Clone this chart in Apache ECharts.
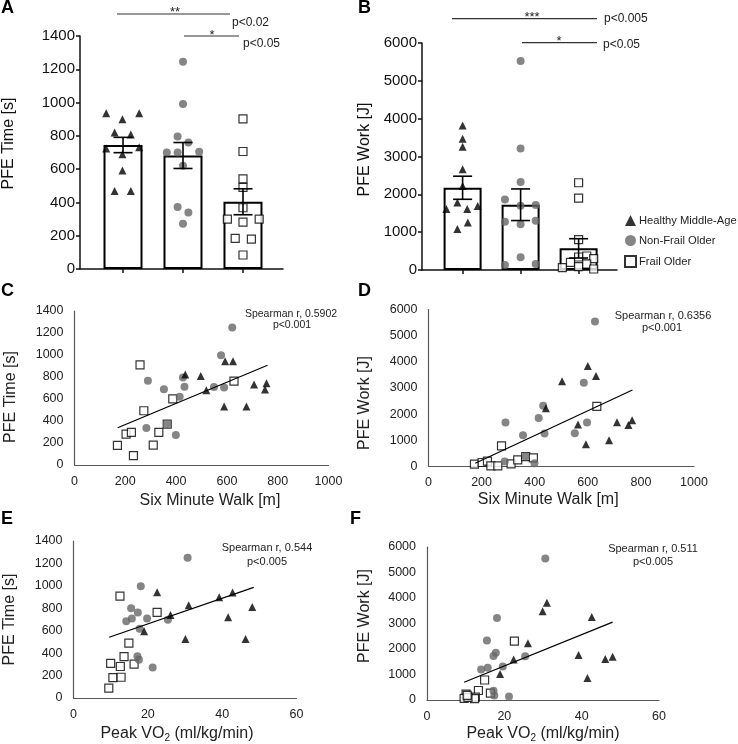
<!DOCTYPE html>
<html>
<head>
<meta charset="utf-8">
<script src="https://cdn.jsdelivr.net/npm/echarts@6/dist/echarts.min.js"></script>
<style>
  html, body { margin: 0; padding: 0; background: #fff; }
  #main { width: 738px; height: 744px; }
</style>
</head>
<body>
<div id="main"></div>
<script>
  // group names (legend)
  const groupNames = ['Healthy Middle-Age', 'Non-Frail Older', 'Frail Older'];

  // panel A: PFE time, bar = mean, error = SEM, dots = subjects [x jitter, value]
  const aMean = [745, 682, 404];
  const aSem = [46, 78, 78];
  const aHealthy = [[0.72, 936], [0.99, 900], [1.27, 936], [0.86, 820], [1.13, 808], [0.72, 724], [1.27, 732], [0.99, 690], [0.99, 592], [0.86, 468], [1.13, 468]];
  const aNonFrail = [[2.0, 1246], [2.0, 992], [1.91, 796], [2.09, 760], [1.73, 700], [1.91, 700], [2.27, 704], [2.0, 620], [1.91, 372], [2.09, 340], [2.0, 272]];
  const aFrail = [[3.0, 902], [3.0, 706], [3.0, 542], [3.0, 490], [3.0, 368], [2.74, 300], [3.0, 282], [3.27, 300], [2.87, 184], [3.14, 180], [3.0, 84]];

  // panel B: PFE work
  const bMean = [2174, 1725, 572];
  const bSem = [305, 418, 255];
  const bHealthy = [[1.0, 3819], [1.0, 3467], [1.0, 3256], [1.0, 2666], [1.0, 2218], [0.91, 1786], [0.72, 1610], [1.08, 1610], [1.26, 1690], [1.09, 1258], [0.91, 1082]];
  const bNonFrail = [[2.0, 5526], [2.0, 3212], [2.0, 2323], [1.73, 1866], [2.26, 1716], [2.0, 1698], [1.73, 1276], [2.0, 1206], [2.26, 1302], [2.0, 334], [1.73, 132], [2.26, 158]];
  const bFrail = [[3.0, 2306], [3.0, 1901], [3.0, 801], [2.72, 62], [2.86, 202], [3.0, 343], [3.14, 370], [3.26, 299], [3.0, 88], [3.14, 158], [3.26, 26]];

  // panel C: six minute walk vs PFE time
  const cHealthy = [[436, 822], [497, 810], [593, 943], [624, 943], [519, 680], [589, 532], [677, 532], [707, 732], [756, 744], [750, 686]];
  const cNonFrail = [[621, 1249], [577, 998], [289, 765], [352, 689], [427, 795], [433, 711], [414, 620], [283, 336], [399, 272], [549, 708], [589, 705], [365, 372]];
  const cFrail = [[169, 178], [203, 281], [224, 296], [232, 85], [258, 910], [273, 493], [310, 181], [332, 296], [387, 602], [365, 372], [628, 762]];
  const cFit = [[170, 339], [760, 907]];

  // panel D: six minute walk vs PFE work
  const dHealthy = [[503, 3254], [600, 3838], [631, 3457], [442, 2224], [563, 1601], [593, 852], [680, 1004], [710, 1690], [753, 1589], [767, 1767]];
  const dNonFrail = [[627, 5541], [585, 3203], [432, 2326], [415, 1856], [290, 1678], [597, 1678], [356, 1195], [437, 1258], [551, 1271], [287, 191], [399, 127], [366, 381]];
  const dFrail = [[173, 89], [202, 153], [222, 203], [235, 25], [275, 788], [261, 25], [311, 102], [336, 254], [366, 381], [395, 330], [634, 2300]];
  const dFit = [[176, 127], [768, 2923]];

  // panel E: peak VO2 vs PFE time
  const eHealthy = [[22.5, 943], [26.1, 741], [31.0, 826], [30.1, 527], [19.0, 595], [39.2, 899], [42.8, 940], [41.6, 721], [46.3, 527], [48.1, 811]];
  const eNonFrail = [[30.7, 1251], [18.1, 996], [15.5, 800], [17.3, 762], [14.2, 685], [15.7, 709], [19.8, 709], [17.8, 618], [25.4, 697], [17.2, 372], [17.6, 340], [21.3, 272]];
  const eFrail = [[12.5, 908], [22.5, 764], [14.9, 489], [13.6, 369], [10.0, 308], [12.6, 281], [16.3, 302], [10.6, 182], [12.8, 185], [9.5, 88]];
  const eFit = [[9.6, 542], [48.5, 987]];

  // panel F: peak VO2 vs PFE work
  const fHealthy = [[31.0, 3811], [29.9, 3477], [42.6, 3258], [26.1, 2228], [22.4, 1584], [18.9, 1017], [39.2, 1764], [41.5, 863], [46.1, 1610], [48.0, 1700]];
  const fNonFrail = [[30.6, 5550], [18.1, 3219], [15.5, 2331], [17.8, 1854], [17.2, 1725], [25.4, 1712], [19.6, 1313], [15.7, 1262], [14.0, 1197], [17.2, 360], [17.4, 180], [21.2, 142]];
  const fFrail = [[22.6, 2305], [14.9, 785], [13.3, 373], [16.4, 270], [10.1, 232], [9.6, 64], [12.5, 116], [12.3, 51], [10.6, 103], [10.4, 180]];
  const fFit = [[9.6, 695], [48.0, 3052]];

  const FONT = '"Liberation Sans", Arial, sans-serif';
  const GRAY = '#676767';
  const plain = v => String(v);

  const groupStyle = [
    { symbol: 'triangle', itemStyle: { color: '#000' } },
    { symbol: 'circle', itemStyle: { color: GRAY } },
    { symbol: 'rect', itemStyle: { color: '#fff', borderColor: '#000', borderWidth: 1.2 } }
  ];

  function dots(idx, g, data, z) {
    return {
      name: groupNames[g],
      type: 'scatter',
      xAxisIndex: idx,
      yAxisIndex: idx,
      symbol: groupStyle[g].symbol,
      symbolSize: 8,
      itemStyle: groupStyle[g].itemStyle,
      z: z,
      data: data
    };
  }

  function bars(idx, mean) {
    return {
      type: 'bar',
      xAxisIndex: idx,
      yAxisIndex: idx,
      barWidth: idx === 0 ? 39 : 38,
      itemStyle: { color: '#fff', borderColor: '#000', borderWidth: 2 },
      z: 1,
      data: mean.map((v, i) => [i + 1, v])
    };
  }

  function errRender(params, api) {
    const x = api.value(0), m = api.value(1), s = api.value(2);
    const top = api.coord([x, m + s]);
    const bot = api.coord([x, m - s]);
    const half = 9.5;
    const st = { stroke: '#000', lineWidth: 1.6 };
    return {
      type: 'group',
      children: [
        { type: 'line', shape: { x1: top[0], y1: top[1], x2: bot[0], y2: bot[1] }, style: st },
        { type: 'line', shape: { x1: top[0] - half, y1: top[1], x2: top[0] + half, y2: top[1] }, style: st },
        { type: 'line', shape: { x1: bot[0] - half, y1: bot[1], x2: bot[0] + half, y2: bot[1] }, style: st }
      ]
    };
  }

  function errBars(idx, mean, sem) {
    return {
      type: 'custom',
      xAxisIndex: idx,
      yAxisIndex: idx,
      renderItem: errRender,
      encode: { x: 0, y: 1 },
      z: 5,
      data: mean.map((v, i) => [i + 1, v, sem[i]])
    };
  }

  function fitLine(idx, data) {
    return {
      type: 'line',
      xAxisIndex: idx,
      yAxisIndex: idx,
      symbol: 'none',
      lineStyle: { color: '#000', width: 1.2 },
      z: 6,
      data: data
    };
  }

  // bar panel axes
  function barX(idx, min, max) {
    return {
      type: 'value', gridIndex: idx, min: min, max: max,
      axisLine: { lineStyle: { color: '#111', width: 1.5 } },
      axisTick: { customValues: [1, 2, 3], length: 4, lineStyle: { color: '#111', width: 1.5 } },
      axisLabel: { show: false },
      splitLine: { show: false }
    };
  }
  function barY(idx, max, step, title, gap, pad) {
    return {
      type: 'value', gridIndex: idx, min: 0, max: max, interval: step,
      name: title, nameLocation: 'middle', nameGap: gap,
      nameTextStyle: { fontFamily: FONT, fontSize: 16, color: '#111', padding: pad },
      axisLine: { show: true, lineStyle: { color: '#111', width: 1.5 } },
      axisTick: { show: true, length: 4, lineStyle: { color: '#111', width: 1.5 } },
      axisLabel: { fontFamily: FONT, fontSize: 15, color: '#111', margin: 5, formatter: plain },
      splitLine: { show: false }
    };
  }

  // scatter panel axes
  function scX(idx, max, step, title, gap, pad) {
    return {
      type: 'value', gridIndex: idx, min: 0, max: max, interval: step,
      name: title, nameLocation: 'middle', nameGap: gap,
      nameTextStyle: {
        fontFamily: FONT, fontSize: 16, color: '#222', padding: pad,
        rich: {
          a: { fontFamily: FONT, fontSize: 16, color: '#222' },
          s: { fontFamily: FONT, fontSize: 10, color: '#222', padding: [9, 0, 0, 0] }
        }
      },
      axisLine: { lineStyle: { color: '#595959', width: 1.2 } },
      axisTick: { show: false },
      axisLabel: { fontFamily: FONT, fontSize: 12.5, color: '#222', margin: 10, formatter: plain },
      splitLine: { show: false }
    };
  }
  function scY(idx, max, step, title, gap, pad) {
    return {
      type: 'value', gridIndex: idx, min: 0, max: max, interval: step,
      name: title, nameLocation: 'middle', nameGap: gap,
      nameTextStyle: { fontFamily: FONT, fontSize: 16, color: '#222', padding: pad },
      axisLine: { show: true, lineStyle: { color: '#595959', width: 1.2 } },
      axisTick: { show: false },
      axisLabel: { fontFamily: FONT, fontSize: 12.5, color: '#222', margin: 11, formatter: plain },
      splitLine: { show: false }
    };
  }

  const vo2Title = '{a|Peak VO}{s|2}{a| (ml/kg/min)}';

  function txt(x, y, s, size, align, extra) {
    return {
      type: 'text', x: x, y: y, silent: true,
      style: Object.assign({
        text: s, fontFamily: FONT, fontSize: size, fill: '#222',
        textAlign: align || 'left', textVerticalAlign: 'middle'
      }, extra || {})
    };
  }
  function hline(x1, x2, y) {
    return {
      type: 'line', silent: true,
      shape: { x1: x1, y1: y, x2: x2, y2: y },
      style: { stroke: '#333', lineWidth: 1.2 }
    };
  }
  const bold = { fontWeight: 'bold', fill: '#000' };

  var myChart = echarts.init(document.getElementById('main'));
  var option = {
    animation: false,
    grid: [
      { left: 80, top: 36, width: 203, height: 233 },
      { left: 422, top: 43, width: 195, height: 227 },
      { left: 74.5, top: 311, width: 254, height: 154 },
      { left: 428.5, top: 309.5, width: 265.5, height: 157 },
      { left: 73.5, top: 541, width: 223, height: 159 },
      { left: 427, top: 547, width: 232, height: 155 }
    ],
    xAxis: [
      barX(0, 0.283, 3.667),
      barX(1, 0.3, 3.662),
      scX(2, 1000, 200, 'Six Minute Walk [m]', 28, [0, 0, 0, 17]),
      scX(3, 1000, 200, 'Six Minute Walk [m]', 25, [0, 26, 0, 0]),
      scX(4, 60, 20, vo2Title, 26, [0, 16, 0, 0]),
      scX(5, 60, 20, vo2Title, 24, [0, 0, 0, 0])
    ],
    yAxis: [
      barY(0, 1400, 200, 'PFE Time [s]', 63, [0, 0, 0, 18]),
      barY(1, 6000, 1000, 'PFE Work [J]', 49, [0, 0, 0, 14]),
      scY(2, 1400, 200, 'PFE Time [s]', 56, [0, 18, 0, 0]),
      scY(3, 6000, 1000, 'PFE Work [J]', 56, [0, 30, 0, 0]),
      scY(4, 1400, 200, 'PFE Time [s]', 56, [0, 0, 0, 0]),
      scY(5, 6000, 1000, 'PFE Work [J]', 54, [0, 0, 0, 15])
    ],
    legend: {
      orient: 'vertical',
      left: 624, top: 215, padding: 0,
      itemWidth: 11, itemHeight: 11, itemGap: 9,
      selectedMode: false,
      textStyle: { fontFamily: FONT, fontSize: 11.2, color: '#222', padding: [0, 0, 0, -2] },
      data: [
        { name: groupNames[0], icon: 'triangle' },
        { name: groupNames[1], icon: 'circle' },
        { name: groupNames[2], icon: 'rect' }
      ]
    },
    series: [
      bars(0, aMean),
      dots(0, 0, aHealthy, 3), dots(0, 1, aNonFrail, 3), dots(0, 2, aFrail, 3),
      errBars(0, aMean, aSem),
      bars(1, bMean),
      dots(1, 0, bHealthy, 3), dots(1, 1, bNonFrail, 3), dots(1, 2, bFrail, 3),
      errBars(1, bMean, bSem),
      dots(2, 2, cFrail, 2), dots(2, 1, cNonFrail, 3), dots(2, 0, cHealthy, 4), fitLine(2, cFit),
      dots(3, 2, dFrail, 2), dots(3, 1, dNonFrail, 3), dots(3, 0, dHealthy, 4), fitLine(3, dFit),
      dots(4, 2, eFrail, 2), dots(4, 1, eNonFrail, 3), dots(4, 0, eHealthy, 4), fitLine(4, eFit),
      dots(5, 2, fFrail, 2), dots(5, 1, fNonFrail, 3), dots(5, 0, fHealthy, 4), fitLine(5, fFit)
    ],
    graphic: [
      // panel letters
      txt(1, 8, 'A', 18, 'left', bold),
      txt(358, 8, 'B', 18, 'left', bold),
      txt(1, 291, 'C', 18, 'left', bold),
      txt(358, 291, 'D', 18, 'left', bold),
      txt(1, 519, 'E', 18, 'left', bold),
      txt(350, 519, 'F', 18, 'left', bold),
      // significance, panel A
      hline(117, 230, 14),
      txt(175, 12, '**', 13, 'center'),
      txt(232, 23, 'p<0.02', 12),
      hline(184, 239, 36),
      txt(212, 35, '*', 13, 'center'),
      txt(243, 44, 'p<0.05', 12),
      // significance, panel B
      hline(452, 597, 18.7),
      txt(532, 17, '***', 13, 'center'),
      txt(604, 19, 'p<0.005', 12),
      hline(522, 597, 42.7),
      txt(559, 41, '*', 13, 'center'),
      txt(603, 45, 'p<0.05', 12),
      // correlation notes
      txt(291, 314, 'Spearman r, 0.5902', 10.5, 'center'),
      txt(292, 325.5, 'p<0.001', 10.5, 'center'),
      txt(663, 316, 'Spearman r, 0.6356', 11, 'center'),
      txt(662, 327.5, 'p<0.001', 11, 'center'),
      txt(267, 547.7, 'Spearman r, 0.544', 11, 'center'),
      txt(267, 561.7, 'p<0.005', 11, 'center'),
      txt(653, 549.3, 'Spearman r, 0.511', 11, 'center'),
      txt(653, 562.3, 'p<0.005', 11, 'center')
    ]
  };
  myChart.setOption(option);
</script>
</body>
</html>
